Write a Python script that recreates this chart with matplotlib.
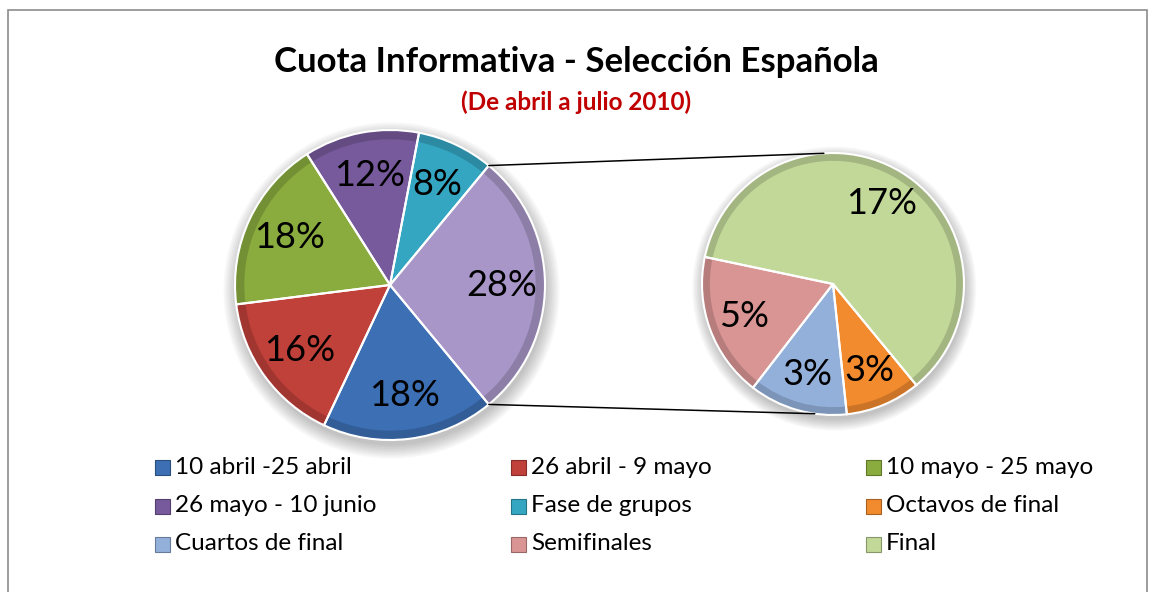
import matplotlib
matplotlib.use('Agg')
import matplotlib.pyplot as plt
from matplotlib.patches import Rectangle, ConnectionPatch, Circle
import numpy as np

# datos
cats_main = ['10 abril -25 abril', '26 abril - 9 mayo', '10 mayo - 25 mayo',
             '26 mayo - 10 junio', 'Fase de grupos']
vals_main = [18, 16, 18, 12, 8]
cats_sec = ['Octavos de final', 'Cuartos de final', 'Semifinales', 'Final']
vals_sec = [2.6, 3.4, 5, 17]

col_main = ['#3C6FB4', '#C0403A', '#8AAB3E', '#775A9C', '#34A6C2', '#A796C7']
col_sec = ['#F28A2E', '#93B0DA', '#D99594', '#C2D898']

plt.rcParams['font.family'] = ['Lato', 'DejaVu Sans']

W, H = 1155, 592
fig = plt.figure(figsize=(W / 100, H / 100), dpi=100)

def box(cx, cy, r):
    # caja en pixeles -> fraccion de figura
    return [(cx - r) / W, 1 - (cy + r) / H, 2 * r / W, 2 * r / H]

other = sum(vals_sec)
total_main = sum(vals_main) + other

ax1 = fig.add_axes(box(390, 285, 155))
ax2 = fig.add_axes(box(833, 284, 131))

def sombra(ax):
    for k in range(8):
        ax.add_patch(Circle((0.01, -0.035), 1.0 + 0.012 * k, color='#000000',
                            alpha=0.03, lw=0, zorder=0, clip_on=False))

sombra(ax1)
sombra(ax2)

ang_other = other / total_main * 180
pies = [(ax1, vals_main + [other], col_main, -ang_other, total_main),
        (ax2, vals_sec, col_sec, -50.5, other)]

for ax, vals, cols, st, tot in pies:
    ax.pie(vals, colors=cols, startangle=st, counterclock=False, radius=1,
           autopct=lambda p, tot=tot: f'{p * tot / 100:.0f}%',
           pctdistance=0.72,
           wedgeprops=dict(edgecolor='none', linewidth=0),
           textprops=dict(fontsize=26, color='black'))
    # borde oscuro para simular el bisel
    dark = [tuple(np.array(matplotlib.colors.to_rgb(c)) * 0.84) for c in cols]
    ax.pie(vals, colors=dark, startangle=st, counterclock=False, radius=1,
           wedgeprops=dict(width=0.06, edgecolor='none'))
    # separadores blancos
    ax.pie(vals, colors=['none'] * len(vals), startangle=st, counterclock=False,
           radius=1, wedgeprops=dict(edgecolor='white', linewidth=1.5))
    for t in ax.texts:
        t.set_zorder(10)
    ax.set_xlim(-1, 1)
    ax.set_ylim(-1, 1)
    ax.axis('off')

# lineas de union
th = np.radians(ang_other)
for s, ang2 in [(1, 94), (-1, 262)]:
    con = ConnectionPatch(xyA=(np.cos(th), s * np.sin(th)), coordsA=ax1.transData,
                          xyB=(np.cos(np.radians(ang2)), np.sin(np.radians(ang2))),
                          coordsB=ax2.transData, color='black', lw=1.1)
    fig.add_artist(con)

# titulo
fig.text(0.499, 1 - 62 / H, 'Cuota Informativa - Selección Española',
         ha='center', va='center', fontsize=25, fontweight='bold')
fig.text(0.499, 1 - 102 / H, '(De abril a julio 2010)', ha='center', va='center',
         fontsize=17.5, fontweight='bold', color='#C00000')

# leyenda manual 3x3
labels = cats_main + cats_sec
colors = col_main[:5] + col_sec
col_x = [162, 518, 873]
row_y = [467, 506, 544]
for i, (lab, c) in enumerate(zip(labels, colors)):
    x = col_x[i % 3]
    y = row_y[i // 3]
    fig.add_artist(Rectangle(((x - 7.5) / W, 1 - (y + 7.5) / H), 15 / W, 15 / H,
                             transform=fig.transFigure, facecolor=c,
                             edgecolor=tuple(np.array(matplotlib.colors.to_rgb(c)) * 0.7),
                             lw=0.8))
    fig.text((x + 13) / W, 1 - y / H, lab, ha='left', va='center', fontsize=17.5)

# marco
fig.add_artist(Rectangle((8 / W, -0.05), 1139 / W, 1.05 - 10 / H,
                         transform=fig.transFigure, fill=False,
                         edgecolor='#8C8C8C', lw=1.2))

fig.savefig('out.png', dpi=100)
